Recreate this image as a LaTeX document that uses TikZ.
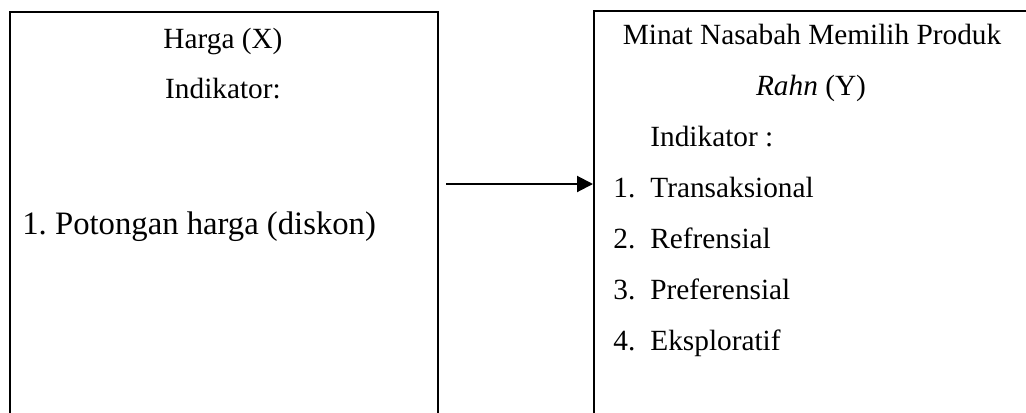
\documentclass[tikz,border=0pt]{standalone}
\usepackage{fontspec}
\setmainfont{Liberation Serif}
\frenchspacing
\usetikzlibrary{arrows.meta}
\tikzset{
  box/.style={draw=black, rectangle, inner sep=0pt, anchor=north west},
  txt/.style={inner sep=0pt, font=\fontsize{14.65pt}{17pt}\selectfont},
  bigtxt/.style={inner sep=0pt, font=\fontsize{16.35pt}{19pt}\selectfont},
  arr/.style={line width=1pt, -{Triangle[length=8pt,width=8pt]}}
}
\begin{document}
\begin{tikzpicture}[x=0.5pt, y=-0.5pt]
\useasboundingbox (0,0) rectangle (1026,412);
\clip (0,0) rectangle (1026,412);
% boxes
\node[box, line width=1pt, minimum width=214pt, minimum height=250pt] (boxX) at (9,11) {};
\node[box, line width=0.75pt, minimum width=300pt, minimum height=250pt] (boxY) at (593,10) {};
% left texts
\node[txt, anchor=base] (hx) at (223,48) {Harga (X)};
\node[txt, anchor=base] (ix) at (223,98) {Indikator:};
\node[bigtxt, anchor=base west] (px) at (22,234) {1.\ Potongan harga (diskon)};
% right texts
\node[txt, anchor=base] (my) at (812,44) {Minat Nasabah Memilih Produk};
\node[txt, anchor=base] (ry) at (811,95) {\textit{Rahn} (Y)};
\node[txt, anchor=base west] (iy) at (650,146) {Indikator :};
\node[txt, anchor=base west] (n1) at (613,197) {1.};
\node[txt, anchor=base west] (t1) at (650,197) {Transaksional};
\node[txt, anchor=base west] (n2) at (613,248) {2.};
\node[txt, anchor=base west] (t2) at (650,248) {Refrensial};
\node[txt, anchor=base west] (n3) at (613,299) {3.};
\node[txt, anchor=base west] (t3) at (650,299) {Preferensial};
\node[txt, anchor=base west] (n4) at (613,350) {4.};
\node[txt, anchor=base west] (t4) at (650,350) {Eksploratif};
% arrow
\coordinate (a0) at (446,184);
\draw[arr] (a0) -- (a0 -| boxY.west);
\end{tikzpicture}
\end{document}
